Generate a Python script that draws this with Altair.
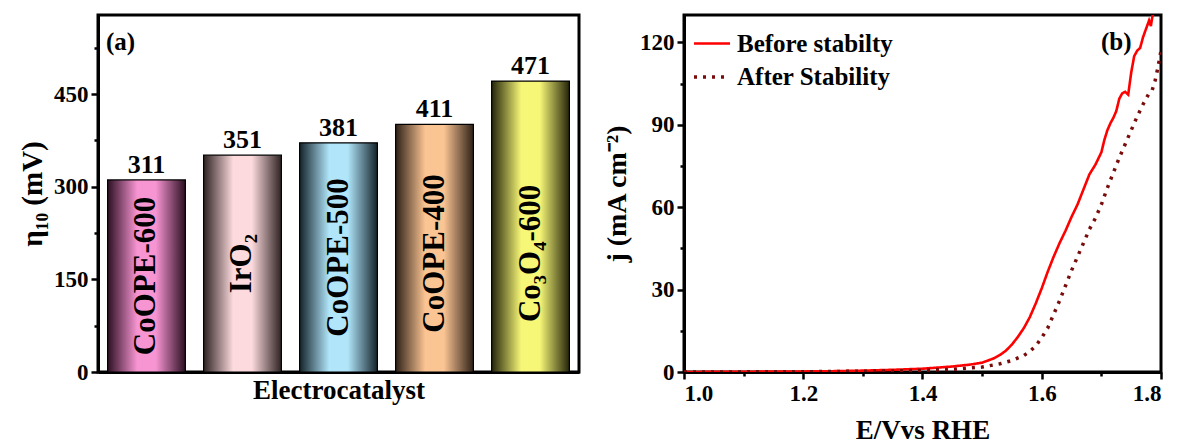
import altair as alt
import pandas as pd

FONT = "Liberation Serif"

# ---------------- panel (a) data ----------------
categories = ["CoOPE-600", "IrO₂", "CoOPE-500", "CoOPE-400", "Co₃O₄-600"]
bar_heights = [311, 351, 371, 401, 471]
bar_labels = ["311", "351", "381", "411", "471"]
bar_colors = ["#f794d2", "#fcdadd", "#b0e5fa", "#fbc493", "#f6f677"]
edge_colors = ["#2b0f22", "#2e2222", "#14232a", "#2e2117", "#24240a"]

# ---------------- panel (b) data ----------------
E_before = [1.00, 1.05, 1.10, 1.15, 1.20, 1.25, 1.30, 1.35, 1.40, 1.45, 1.48, 1.50, 1.52, 1.53,
            1.54, 1.55, 1.56, 1.57, 1.58, 1.59, 1.60, 1.61, 1.62, 1.63, 1.64, 1.65, 1.66, 1.67,
            1.68, 1.69, 1.70, 1.705, 1.71, 1.715, 1.72, 1.725, 1.73, 1.735, 1.74, 1.745, 1.75,
            1.755, 1.76, 1.765, 1.77, 1.775, 1.78, 1.783, 1.786, 1.79]
j_before = [0.0, 0.05, 0.1, 0.15, 0.2, 0.3, 0.5, 0.8, 1.2, 2.0, 2.7, 3.4, 5.0, 6.2,
            7.8, 10.0, 12.8, 16.0, 20.0, 25.0, 30.5, 36.5, 42.0, 47.0, 51.5, 56.5, 61.0, 66.5,
            72.0, 75.5, 80.0, 84.5, 88.0, 90.5, 92.5, 95.0, 99.5, 101.5, 102.0, 101.0, 109.0,
            115.0, 117.0, 118.0, 122.0, 125.0, 128.0, 126.0, 130.0, 131.0]
E_after = [1.00, 1.10, 1.20, 1.30, 1.35, 1.40, 1.45, 1.50, 1.53, 1.55, 1.57, 1.58, 1.59, 1.60,
           1.61, 1.62, 1.63, 1.64, 1.65, 1.66, 1.67, 1.68, 1.69, 1.70, 1.71, 1.72, 1.73, 1.74,
           1.75, 1.76, 1.77, 1.78, 1.785, 1.79, 1.795, 1.80]
j_after = [0.0, 0.05, 0.1, 0.3, 0.4, 0.6, 1.0, 1.8, 3.0, 4.2, 6.0, 7.5, 9.5, 12.5,
           16.0, 21.0, 26.0, 31.5, 37.0, 42.0, 47.0, 52.0, 56.0, 61.0, 67.0, 72.5, 78.0, 83.0,
           88.0, 93.0, 97.5, 101.5, 102.5, 106.0, 111.0, 117.0]
series_names = ["Before stabilty", "After Stability"]
series_colors = ["#ff0000", "#7a0b0b"]

# ---------------- panel (a) ----------------
bars_df = pd.DataFrame({"idx": list(range(len(categories))), "cat": categories,
                        "h": bar_heights, "lab": bar_labels})
base_a = alt.Chart(bars_df)

x_a = alt.X("cat:N", sort=categories,
            scale=alt.Scale(paddingInner=0.19, paddingOuter=0.1),
            axis=alt.Axis(title="Electrocatalyst", labels=False, ticks=False,
                          titlePadding=5, titleFontSize=27))
y_a = alt.Y("h:Q", scale=alt.Scale(domain=[0, 578], nice=False),
            axis=alt.Axis(title="η₁₀ (mV)", titleFontSize=29,
                          values=[0, 75, 150, 225, 300, 375, 450, 525],
                          labelExpr="datum.value % 150 == 0 ? datum.label : ''",
                          tickSize={"condition": {"test": "datum.value % 150 != 0", "value": 4},
                                    "value": 7},
                          titlePadding=6))

layers_a = []
for i in range(len(categories)):
    grad = alt.Gradient(
        gradient="linear", x1=0, x2=1, y1=0, y2=0,
        stops=[alt.GradientStop(offset=0, color=edge_colors[i]),
               alt.GradientStop(offset=0.38, color=bar_colors[i]),
               alt.GradientStop(offset=0.62, color=bar_colors[i]),
               alt.GradientStop(offset=1, color=edge_colors[i])])
    layers_a.append(
        base_a.transform_filter(alt.datum.idx == i)
        .mark_bar(color=grad, stroke="black", strokeWidth=1.2)
        .encode(x=x_a, y=y_a)
    )

value_text = base_a.mark_text(dy=-15, font=FONT, fontSize=26, fontWeight="bold",
                              color="black").encode(x=x_a, y=y_a, text="lab:N")
inner_text = base_a.transform_calculate(mid="min(192, datum.h / 2)").mark_text(
    angle=270, font=FONT, fontSize=31, fontWeight="bold",
    color="black", align="center", baseline="middle").encode(
    x=x_a, y=alt.Y("mid:Q"), text="cat:N")
tag_a = alt.Chart(pd.DataFrame({"t": ["(a)"]})).mark_text(
    font=FONT, fontSize=25, fontWeight="bold", align="left", baseline="middle",
    color="black").encode(x=alt.value(8), y=alt.value(27), text="t:N")

panel_a = alt.layer(*layers_a, value_text, inner_text, tag_a).properties(width=481, height=357)

# ---------------- panel (b) ----------------
rows = []
for k, (E, j) in enumerate(zip(E_before, j_before)):
    rows.append({"series": series_names[0], "E": E, "j": j, "o": k})
for k, (E, j) in enumerate(zip(E_after, j_after)):
    rows.append({"series": series_names[1], "E": E, "j": j, "o": k})
lines_df = pd.DataFrame(rows)

leg = alt.Legend(title=None, orient="none", legendX=594, legendY=9, padding=0,
                 symbolType="stroke", symbolSize=1296, symbolStrokeWidth=3.2,
                 labelFont=FONT, labelFontSize=25, labelFontWeight="bold",
                 labelColor="black", labelOffset=5, rowPadding=-3)

lines = alt.Chart(lines_df).mark_line(clip=True).encode(
    x=alt.X("E:Q", scale=alt.Scale(domain=[1.0, 1.8], nice=False),
            axis=alt.Axis(title="E/Vvs RHE", format=".1f", titleFontSize=27,
                          values=[1.0, 1.1, 1.2, 1.3, 1.4, 1.5, 1.6, 1.7, 1.8],
                          labelExpr="round(datum.value*10) % 2 == 0 ? datum.label : ''",
                          tickSize={"condition": {"test": "round(datum.value*10) % 2 != 0",
                                                  "value": 4}, "value": 7},
                          titlePadding=12)),
    y=alt.Y("j:Q", scale=alt.Scale(domain=[0, 130], nice=False),
            axis=alt.Axis(title="j (mA cm⁻²)", titleFontSize=28,
                          values=[0, 15, 30, 45, 60, 75, 90, 105, 120],
                          labelExpr="datum.value % 30 == 0 ? datum.label : ''",
                          tickSize={"condition": {"test": "datum.value % 30 != 0", "value": 4},
                                    "value": 7},
                          titlePadding=8)),
    color=alt.Color("series:N", scale=alt.Scale(domain=series_names, range=series_colors),
                    legend=leg),
    strokeDash=alt.StrokeDash("series:N",
                              scale=alt.Scale(domain=series_names, range=[[1, 0], [3, 6]]),
                              legend=leg),
    strokeWidth=alt.StrokeWidth("series:N",
                                scale=alt.Scale(domain=series_names, range=[2.6, 3.5]),
                                legend=None),
    order=alt.Order("o:Q"),
)
tag_b = alt.Chart(pd.DataFrame({"t": ["(b)"]})).mark_text(
    font=FONT, fontSize=25, fontWeight="bold", align="left", baseline="middle",
    color="black").encode(x=alt.value(417), y=alt.value(27), text="t:N")

panel_b = alt.layer(lines, tag_b).properties(width=477, height=357)

chart = alt.hconcat(panel_a, panel_b, spacing=21).properties(
    padding={"left": 9, "top": 5, "right": 5, "bottom": 0}
).configure_view(stroke="black", strokeWidth=3).configure_axis(
    labelFont=FONT, labelFontSize=23, labelFontWeight="bold", labelColor="black",
    titleFont=FONT, titleFontSize=24, titleFontWeight="bold", titleColor="black",
    domainColor="black", domainWidth=3, tickColor="black", tickWidth=2.5,
    labelPadding=3, grid=False,
)

chart.save("out.html", embed_options={"renderer": "svg", "actions": False})
